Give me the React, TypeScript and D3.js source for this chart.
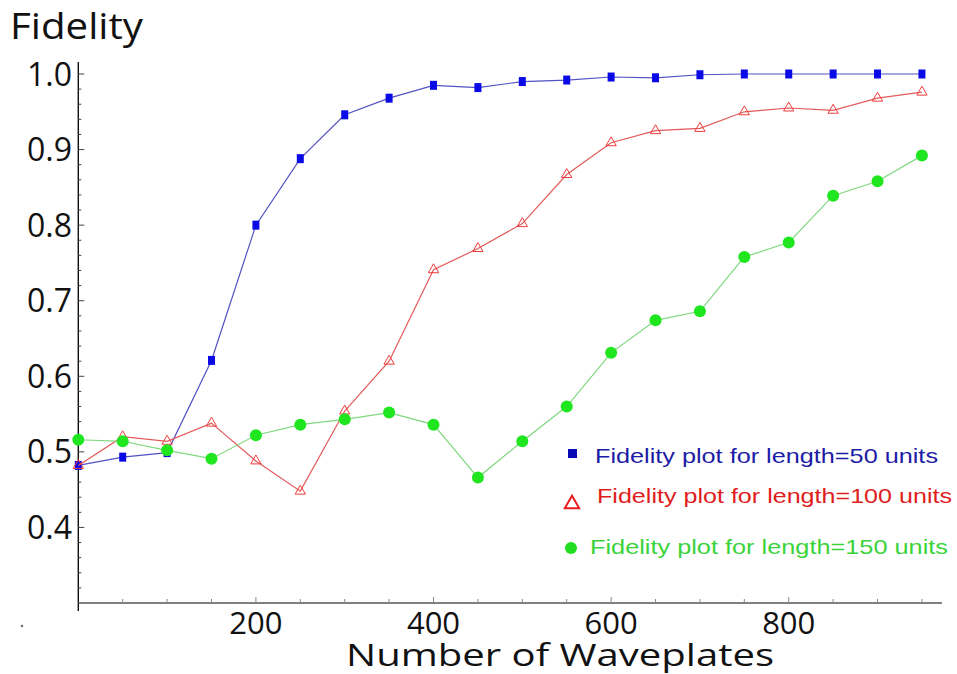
import * as d3 from "d3";
import React from "react";

const waveplates = [0, 50, 100, 150, 200, 250, 300, 350, 400, 450, 500, 550, 600, 650, 700, 750, 800, 850, 900, 950];
const fid50 = [0.482, 0.493, 0.499, 0.621, 0.8, 0.888, 0.946, 0.968, 0.985, 0.982, 0.99, 0.992, 0.996, 0.995, 0.999, 1.0, 1.0, 1.0, 1.0, 1.0];
const fid100 = [0.482, 0.52, 0.514, 0.538, 0.488, 0.448, 0.554, 0.62, 0.741, 0.769, 0.802, 0.867, 0.909, 0.925, 0.928, 0.95, 0.955, 0.952, 0.968, 0.976];
const fid150 = [0.516, 0.514, 0.502, 0.491, 0.522, 0.536, 0.543, 0.552, 0.536, 0.466, 0.514, 0.56, 0.631, 0.674, 0.686, 0.758, 0.777, 0.839, 0.858, 0.892];

const xTickLabels = [200, 400, 600, 800];
const yTickLabels = [0.4, 0.5, 0.6, 0.7, 0.8, 0.9, 1.0];
const legendLabels = [
    "Fidelity plot for length=50 units",
    "Fidelity plot for length=100 units",
    "Fidelity plot for length=150 units"
];

const width = 957;
const height = 674;
const font = "'Open Sans', sans-serif";
const legendFont = "'Liberation Sans', Arial, sans-serif";

const App = () => {
    const x = d3.scaleLinear().domain([0, 972.6]).range([78.3, 942]);
    const y = d3.scaleLinear().domain([0.3, 1.0]).range([603, 74]);

    const line = d3
        .line<number>()
        .x((d, i) => x(waveplates[i]))
        .y(d => y(d));

    const xMinor = d3.range(50, 951, 50);
    const yMinor = d3.range(0.32, 1.015, 0.02);
    const tri = d3.symbol(d3.symbolTriangle, 46)();

    return (
        <svg width={width} height={height}
             style={{display: "block", position: "absolute", left: 0, top: 0, overflow: "visible"}}>
            <rect width={width} height={height} fill="#fff"/>

            {/* axes */}
            <line x1={x(0)} x2={x(0)} y1={62} y2={611} stroke="#111" strokeWidth={1.4}/>
            <line x1={x(0)} x2={942} y1={y(0.3)} y2={y(0.3)} stroke="#555" strokeWidth={1.6}/>
            {yMinor.map(v => {
                const major = Math.abs(v * 10 - Math.round(v * 10)) < 0.01;
                return <line key={v} x1={x(0)} x2={x(0) + (major ? 6 : 3)} y1={y(v)} y2={y(v)}
                             stroke="#444" strokeWidth={1}/>;
            })}
            {xMinor.map(v => (
                <line key={v} x1={x(v)} x2={x(v)} y1={y(0.3)} y2={y(0.3) - (v % 200 === 0 ? 6 : 4)}
                      stroke="#888" strokeWidth={1}/>
            ))}
            {yTickLabels.map(v => (
                <text key={v} x={72} y={y(v)} dy="0.36em" textAnchor="end" fontFamily={font}
                      fontSize={32} fill="#111">{v.toFixed(1)}</text>
            ))}
            {xTickLabels.map(v => (
                <text key={v} x={x(v)} y={634} textAnchor="middle" fontFamily={font}
                      fontSize={31} fill="#111">{v}</text>
            ))}
            <text x={10} y={39} fontFamily={font} fontSize={37} fill="#111" textLength={133}
                  lengthAdjust="spacingAndGlyphs">Fidelity</text>
            <text x={346} y={666} fontFamily={font} fontSize={31} fill="#111" textLength={428}
                  lengthAdjust="spacingAndGlyphs">Number of Waveplates</text>
            <circle cx={22} cy={626} r={1.2} fill="#666"/>

            {/* series */}
            <path d={line(fid50) ?? ""} fill="none" stroke="#5252c4" strokeWidth={1.2}/>
            {fid50.map((d, i) => (
                <rect key={i} x={x(waveplates[i]) - 3.5} y={y(d) - 4.5} width={7} height={9} fill="#0a0ae6"/>
            ))}
            <path d={line(fid100) ?? ""} fill="none" stroke="#e25a5a" strokeWidth={1.2}/>
            {fid100.map((d, i) => (
                <path key={i} d={tri ?? ""} transform={`translate(${x(waveplates[i])},${y(d)})`}
                      fill="none" stroke="#f03c3c" strokeWidth={1}/>
            ))}
            <path d={line(fid150) ?? ""} fill="none" stroke="#7fd87f" strokeWidth={1.2}/>
            {fid150.map((d, i) => (
                <circle key={i} cx={x(waveplates[i])} cy={y(d)} r={6} fill="#1fe61f"/>
            ))}

            {/* legend */}
            <rect x={568} y={449} width={9} height={9} fill="#0a0ab4"/>
            <text x={595} y={463} fontFamily={legendFont} fontSize={21} fill="#1c1ca6"
                  textLength={343} lengthAdjust="spacingAndGlyphs">{legendLabels[0]}</text>
            <path d={d3.symbol(d3.symbolTriangle, 90)() ?? ""} transform="translate(572,504)"
                  fill="none" stroke="#e81e1e" strokeWidth={2}/>
            <text x={597} y={503} fontFamily={legendFont} fontSize={21} fill="#e01c1c"
                  textLength={355} lengthAdjust="spacingAndGlyphs">{legendLabels[1]}</text>
            <circle cx={571} cy={548} r={6} fill="#22dd22"/>
            <text x={590} y={554} fontFamily={legendFont} fontSize={21} fill="#3ad33a"
                  textLength={358} lengthAdjust="spacingAndGlyphs">{legendLabels[2]}</text>
        </svg>
    );
};

export default App;
